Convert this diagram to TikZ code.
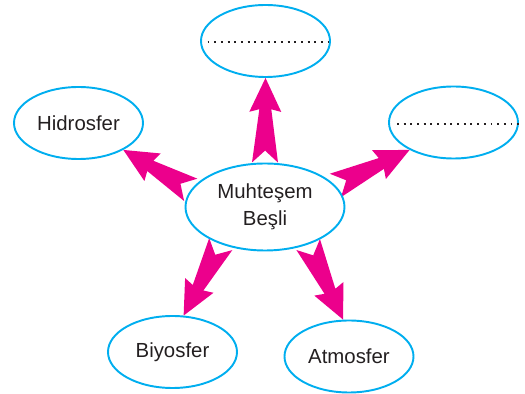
\documentclass[tikz,border=0pt]{standalone}
\usepackage{fontspec}
\setmainfont{Liberation Sans}
\usetikzlibrary{calc,backgrounds,shapes.geometric}
\definecolor{okpembe}{RGB}{236,0,140}
\definecolor{elmavi}{RGB}{0,174,239}
\definecolor{yazi}{RGB}{35,31,32}
\tikzset{
  elips/.style={ellipse, draw=elmavi, line width=1.1pt, minimum width=2.58cm,
    minimum height=1.44cm, inner sep=0pt, text=yazi, align=center,
    font=\fontsize{11.6}{15.3}\selectfont},
  noktali/.style={line width=1.1pt, dash pattern=on 1.1pt off 2.7pt, yazi}
}
% kalin ok: #1 kuyruk, #2 uc
\newcommand\kalinok[2]{%
  \fill[okpembe] let \p1=(#1), \p2=(#2),
    \n1={atan2(\y2-\y1,\x2-\x1)}, \n2={veclen(\x2-\x1,\y2-\y1)-19.3pt} in
    (\p2) -- ($(\p1)+(\n1:\n2)+(\n1+90:9.1pt)$)
    -- ($(\p1)+(\n1:\n2+1.5pt)+(\n1+90:3.4pt)$)
    -- ($(\p1)+(\n1+90:7.4pt)$) -- ($(\p1)+(\n1:6.8pt)$)
    -- ($(\p1)+(\n1-90:7.4pt)$)
    -- ($(\p1)+(\n1:\n2+1.5pt)+(\n1-90:3.4pt)$)
    -- ($(\p1)+(\n1:\n2)+(\n1-90:9.1pt)$) -- cycle;}
\begin{document}
\begin{tikzpicture}
    \useasboundingbox (0,0) rectangle (10.5,7.88);

    % Elipsler
    \node[elips, minimum width=3.18cm, minimum height=1.74cm] (merkez) at (5.30,3.74) {Muhteşem\\Beşli};
    \node[elips] (ust) at (5.31,7.06) {};
    \node[elips] (hidro) at (1.57,5.42) {Hidrosfer};
    \node[elips] (sag) at (9.07,5.43) {};
    \node[elips] (biyo) at (3.45,0.84) {Biyosfer};
    \node[elips] (atmo) at (6.98,0.75) {Atmosfer};

    % Bos satirlar
    \draw[noktali] ([xshift=0.15cm,yshift=-0.02cm]ust.west) -- ([xshift=-0.05cm,yshift=-0.02cm]ust.east);
    \draw[noktali] ([xshift=0.18cm,yshift=-0.03cm]sag.west) -- ([yshift=-0.03cm]sag.east);

    % Oklar
    \begin{pgfonlayer}{background}
    \kalinok{merkez.90}{ust.-90}
    \kalinok{merkez.167}{hidro.-31.5}
    \kalinok{merkez.17}{sag.212}
    \kalinok{merkez.220}{biyo.73}
    \kalinok{merkez.-41.5}{atmo.99}
    \end{pgfonlayer}
\end{tikzpicture}
\end{document}
